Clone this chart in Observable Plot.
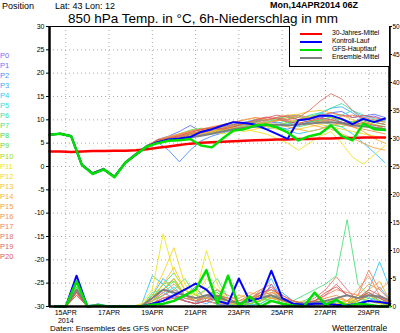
<!DOCTYPE html>
<html><head><meta charset="utf-8">
<script src="https://cdn.jsdelivr.net/npm/d3@7"></script>
<script src="https://cdn.jsdelivr.net/npm/@observablehq/plot@0.6"></script>
<style>
body{margin:0;background:#fff;font-family:"Liberation Sans",Arial,sans-serif;}
#wrap{position:relative;width:400px;height:333px;overflow:hidden;background:#fff;}
#wrap svg{position:absolute;left:0;top:0;}
.t{position:absolute;white-space:nowrap;line-height:1;color:#000;}
.lg{position:absolute;left:289px;top:26px;width:99px;height:40px;border:1px solid #000;border-top:none;border-right:none;background:#fff;}
.lgl{position:absolute;left:10px;width:22px;height:2px;}
.lgt{position:absolute;left:42px;font-size:6.8px;line-height:1;white-space:nowrap;letter-spacing:-0.1px;}
</style></head><body><div id="wrap"></div>
<script>
// ---------- data ----------
const memberNames = ["P0","P1","P2","P3","P4","P5","P6","P7","P8","P9","P10","P11","P12","P13","P14","P15","P16","P17","P18","P19","P20"];
const memberColors = ["#7f66ff","#5f73ff","#4d8dff","#3fa9ff","#33c6ff","#33dcdc","#3fe0a6","#4fe07a","#3fdc3f","#66e033","#99e022","#eee422","#f8d426","#f8c22e","#f8b030","#f8a040","#f59050","#ef8060","#e07468","#e06464","#e05454"];
const tickLabels = ["15APR\n2014","17APR","19APR","21APR","23APR","25APR","27APR","29APR"];
const tempStartUTC = [2014,3,14,6];   // first temperature value: 14APR2014 06Z
const precipStartUTC = [2014,3,14,12]; // first 6h precipitation value
const stepHours = 12;

// 850 hPa temperature (°C), every 12 h
const tP0 = [6.8,7.0,6.6,0.4,-1.4,-0.5,-2.1,0.9,2.7,4.4, 5.5,6.0,6.5,7.0,7.2,7.8,8.0,8.5,9.0,8.8,9.2,9.5,9.0,9.8,10.2,10.5,11.0,10.0,9.5,10.5,10.8,10.0];
const tP1 = [6.7,7.1,6.4,0.1,-1.6,-0.7,-2.3,0.7,2.5,4.2, 5.8,6.5,7.5,8.8,7.5,7.0,7.5,8.2,8.5,9.5,10.0,10.5,9.8,9.0,9.5,10.2,11.5,11.8,10.5,10.8,11.2,10.5];
const tP2 = [6.9,6.9,6.7,0.6,-1.3,-0.4,-2.0,1.1,2.9,4.6, 5.2,3.5,1.0,3.5,5.5,6.5,7.2,7.8,8.0,8.5,9.2,8.5,8.0,8.8,9.5,10.0,10.5,9.5,9.0,8.5,9.0,8.0];
const tP3 = [6.8,7.2,6.5,0.2,-1.7,-0.8,-2.4,0.6,2.4,4.0, 5.0,5.8,6.2,6.8,7.0,7.5,8.2,9.0,9.5,10.0,9.8,10.5,10.8,11.0,10.5,11.2,12.5,12.8,11.5,10.0,9.5,9.0];
const tP4 = [6.8,7.0,6.6,0.3,-1.5,-0.6,-2.2,0.8,2.6,4.3, 5.5,6.0,6.8,6.5,6.8,7.2,7.6,8.0,8.8,8.5,8.0,8.5,7.8,7.0,7.5,8.0,9.0,8.5,7.0,5.0,3.0,0.8];
const tP5 = [6.7,7.0,6.5,0.5,-1.4,-0.5,-2.1,1.0,2.8,4.5, 5.6,6.2,6.0,7.0,7.5,7.8,8.0,8.6,9.2,9.8,10.2,9.5,9.0,9.8,10.5,11.5,10.8,11.0,12.0,11.0,10.2,9.8];
const tP6 = [6.9,7.1,6.6,0.2,-1.6,-0.6,-2.3,0.7,2.6,4.2, 5.4,5.8,6.5,7.2,7.0,7.6,8.4,8.8,9.0,9.5,9.0,8.5,9.2,10.0,11.0,11.5,12.5,13.5,12.0,10.5,9.5,9.0];
const tP7 = [6.8,6.9,6.4,0.4,-1.5,-0.7,-2.2,0.9,2.7,4.3, 5.0,5.5,6.0,6.5,7.2,8.0,8.5,8.2,8.0,8.8,9.5,10.0,9.5,8.5,9.0,9.8,10.0,9.5,8.8,9.2,8.5,8.0];
const tP8 = [6.8,7.0,6.5,0.3,-1.5,-0.5,-2.2,0.8,2.6,4.4, 5.3,6.0,6.4,7.0,7.4,7.2,7.8,8.5,9.2,9.6,10.0,10.2,10.8,10.0,9.5,10.0,10.5,10.0,9.5,9.8,9.0,8.5];
const tP9 = [6.7,7.1,6.6,0.5,-1.3,-0.4,-2.0,1.0,2.8,4.5, 5.7,6.3,7.0,7.8,8.2,8.0,8.6,9.0,8.5,8.8,9.5,9.8,10.2,10.8,10.0,9.6,9.0,8.5,9.5,10.2,9.8,9.5];
const tP10 = [6.8,7.0,6.5,0.2,-1.6,-0.6,-2.3,0.7,2.5,4.2, 5.0,5.6,6.2,6.6,7.0,7.6,8.0,8.6,9.0,9.4,9.0,8.8,9.5,10.0,10.8,11.0,10.5,10.0,9.2,8.8,9.5,9.0];
const tP11 = [6.9,7.0,6.6,0.4,-1.4,-0.5,-2.1,0.9,2.7,4.3, 5.2,5.8,6.0,6.2,7.0,7.4,7.0,7.5,8.0,7.5,7.0,6.0,5.0,3.5,5.0,6.5,7.5,5.0,2.0,0.5,2.5,4.5];
const tP12 = [6.8,7.1,6.5,0.3,-1.5,-0.6,-2.2,0.8,2.6,4.4, 5.5,6.0,6.5,7.0,7.5,8.0,8.5,8.0,7.5,8.0,8.5,8.0,7.5,8.0,8.5,9.0,8.5,8.0,7.5,7.0,6.5,6.0];
const tP13 = [6.7,7.0,6.6,0.5,-1.4,-0.5,-2.1,1.0,2.8,4.5, 5.6,6.4,6.8,7.4,7.8,8.2,8.8,9.4,10.0,10.4,10.0,10.5,11.0,11.2,11.8,12.0,11.5,11.0,10.0,9.5,9.0,8.0];
const tP14 = [6.8,6.9,6.4,0.2,-1.6,-0.7,-2.3,0.7,2.5,4.2, 5.4,6.0,6.6,7.2,7.0,7.5,8.0,8.5,8.2,8.8,9.2,9.0,8.5,8.0,7.5,8.0,8.8,9.2,8.5,7.5,6.0,5.0];
const tP15 = [6.8,7.0,6.5,0.3,-1.5,-0.6,-2.2,0.8,2.6,4.3, 5.2,5.6,6.0,6.5,7.0,7.4,7.8,8.2,8.6,9.0,9.4,9.8,10.0,9.5,9.0,8.5,8.0,7.0,6.0,5.0,4.0,3.5];
const tP16 = [6.9,7.1,6.6,0.4,-1.4,-0.5,-2.1,0.9,2.7,4.4, 5.8,6.4,7.0,7.5,8.0,8.5,9.0,9.5,10.0,10.5,10.2,9.8,10.5,11.0,10.5,10.0,9.5,9.0,8.5,8.0,7.5,7.0];
const tP17 = [6.7,7.0,6.5,0.3,-1.5,-0.6,-2.2,0.8,2.6,4.3, 5.5,6.2,6.8,7.6,8.0,8.4,8.8,9.6,9.2,9.0,9.8,10.5,11.0,10.5,10.0,9.5,10.0,10.8,11.0,10.5,10.0,9.5];
const tP18 = [6.8,7.0,6.6,0.5,-1.3,-0.4,-2.0,1.0,2.8,4.5, 5.0,5.6,6.2,6.8,7.2,7.8,8.2,8.8,9.0,9.5,10.0,10.5,10.0,10.5,12.0,14.0,15.6,14.5,12.0,10.0,9.5,9.0];
const tP19 = [6.8,7.1,6.5,0.2,-1.6,-0.6,-2.3,0.7,2.5,4.2, 5.3,5.9,6.4,7.0,7.6,8.0,8.5,9.0,9.4,9.8,10.4,11.0,10.6,10.0,10.4,11.0,11.5,11.0,10.5,11.0,10.5,10.0];
const tP20 = [6.9,7.0,6.6,0.4,-1.4,-0.5,-2.1,0.9,2.7,4.4, 5.7,6.1,6.6,7.3,7.9,8.3,8.0,8.5,9.2,10.0,10.6,10.2,9.6,9.2,9.8,10.4,10.0,9.5,9.0,9.4,8.8,8.5];
const tControl = [6.8,7.0,6.5,0.3,-1.5,-0.6,-2.2,0.8,2.6,4.3, 5.2,5.8,6.0,6.3,7.4,8.0,8.8,9.5,9.3,9.0,8.0,7.0,5.9,9.9,10.2,10.9,10.9,10.2,9.1,10.2,9.5,10.3];
const tMain = [6.8,7.0,6.5,0.3,-1.6,-0.6,-2.3,0.8,2.6,4.3, 5.0,5.5,5.6,5.9,4.5,4.1,6.0,7.7,8.0,8.8,9.0,8.4,7.3,5.6,6.5,7.0,8.8,6.5,5.6,9.2,8.0,7.8];
const tMean = [6.8,7.0,6.5,0.3,-1.5,-0.6,-2.2,0.8,2.6,4.3, 5.3,5.6,5.8,6.2,6.6,7.0,7.5,8.0,8.3,8.5,8.8,9.0,8.8,9.0,9.2,9.4,9.5,9.3,8.8,8.6,8.3,8.0];
const tClim = [3.2,3.2,3.1,3.2,3.3,3.3,3.4,3.4,3.5,3.7, 4.0,4.3,4.6,4.9,5.1,5.2,5.3,5.4,5.5,5.6,5.7,5.8,5.8,5.9,5.9,6.0,6.0,6.1,6.1,6.2,6.2,6.2];

// 6h precipitation (mm), every 12 h
const pP0 = [0,0,2.5,0,0.3,0,0,0,0,0.5,1.5,2,1,0.5,1,0.5,0.3,0,0.8,1.5,2,0.5,0.2,0.8,1,0.5,0.2,0.5,1.5,2.5,1,0];
const pP1 = [0,0,3.5,0,0.2,0,0,0,0,1,2.5,1.5,2,3.5,1,0.5,0,0.5,1,2,3,1,0.5,0.3,0.5,1,0.5,0.2,1,2,1.5,0.5];
const pP2 = [0,0,4.5,0.2,0.4,0,0,0,0.2,1.5,3,2.5,1,0.5,2,1,0.3,0,0.5,1,4,1,0.5,0.2,0.3,0.5,1,0.5,0.3,1,2,1];
const pP3 = [0,0,3,0,0.3,0,0.2,0,0,2,5,3,2,1,0.5,1.5,1,0.5,0.2,0.5,1.5,2.5,1,0.5,0.3,0.5,0.8,1,0.5,1.5,3.5,1];
const pP4 = [0,0,3,0,0.5,0,0,0,0.3,5.5,4,2,1,0.5,1,2,1,0.3,1,2.5,5,1,0.5,0.3,0.2,0.5,1,0.5,1,3,8,3];
const pP5 = [0,0,2,0,0.3,0,0,0,0,1,2,3.5,1.5,1,2,1.5,0.5,0.2,0.5,1,2,1.5,0.5,0.3,0.5,1,0.5,0.5,1,2,1.5,0.5];
const pP6 = [0,0,2.5,0,0.2,0,0,0,0,2.5,3,4.5,2,1,1.5,3,1,0.5,0.3,0.5,1.5,1,0.5,1,2,1,0.5,1,2,1.5,1,0.5];
const pP7 = [0,0,3,0,0.2,0,0,0,0,1.5,4,6,3,2,3,5,1.5,0.5,1,1.5,1,0.5,1,2,3,4,5.5,15.5,4,2,1,0.5];
const pP8 = [0,0,4,0,0.3,0,0,0,0,2,3,5,2,1,2,2.5,1,0.3,0.5,1,2,1.5,0.5,0.5,1,0.5,0.3,0.5,1,2,1,0.5];
const pP9 = [0,0,3.5,0,0.2,0,0,0,0,1,2,3,5,2,1.5,1,0.5,0.5,1,2.5,1.5,1,0.5,0.3,0.5,1,0.5,0.5,1.5,1,0.5,0.3];
const pP10 = [0,0,3,0,0.3,0,0,0,0,1.5,4,4.5,2,1,2,1.5,0.5,0.3,0.5,1,1.5,1,0.5,0.5,1,0.5,0.5,1,0.5,1,0.5,0.3];
const pP11 = [0,0,2.5,0,0.2,0,0,0,0.5,3,13,6,3,2,10,4,1,0.5,1,2,3,1.5,0.5,0.5,0.3,0.5,0.5,1,2,1,0.5,0.5];
const pP12 = [0,0,2,0,0.2,0,0,0,0.3,2,6,10.5,4,2,5,3,1,0.5,1,1.5,2,1,0.5,1,0.5,0.3,0.5,1,1.5,2,1,0.5];
const pP13 = [0,0,2.5,0,0.3,0,0,0,0,1.5,4,7,3,1.5,3,2,0.5,0.5,1.5,2,1.5,1,0.5,0.3,0.5,1,1.5,1,1,2.5,1.5,0.5];
const pP14 = [0,0,2,0,0.2,0,0,0,0,1,3,5,2,1,2,1.5,1,2,1.5,1,2.5,2,1,0.5,0.5,1,1,0.5,1,3,4.5,1];
const pP15 = [0,0,2,0,0.2,0,0,0,0,1,2.5,4,2,1.5,1.5,1,0.5,1.5,2.5,2,1.5,1,0.5,0.3,0.5,1,1.5,1,2,4,3,4.5];
const pP16 = [0,0,2.5,0,0.3,0,0,0,0,0.5,2,3,2,1,1,0.5,0.5,1,2,3,2,1,0.5,0.5,1,1.5,2,1,3,5.5,2,0.5];
const pP17 = [0,0,2,0,0.2,0,0,0,0,0.5,1.5,2,1.5,1,2,3,2,1,1.5,2,2.5,1.5,1,0.5,1,2,3,2.5,2,6.5,3,1];
const pP18 = [0,0,2.5,0,0.3,0,0,0,0,0.5,1,2,1.5,1,1.5,2,1,0.5,1,3,4,1.5,1,0.5,1.5,3,5.3,3,1,2,1.5,0.5];
const pP19 = [0,0,2,0,0.2,0,0,0,0,0.5,1.5,2,1,0.5,1,1.5,1,0.5,1.5,2.5,3,2,1,0.5,1,2,4,2,1.5,3,2,1];
const pP20 = [0,0,2.5,0,0.2,0,0,0,0,0.5,1,1.5,1,0.5,1,2,1.5,0.5,1,2,3.5,1.5,0.5,0.5,1,2.5,3.5,2,1.5,2.5,1.5,0.5];
const pControl = [0,0,5.5,0,0.2,0,0,0,0,0.5,1,2,3,4.1,3,1,0.5,5,1,1.5,6.4,1.5,0.5,0.3,0.5,0.5,0.3,0.2,0.5,1,0.8,0.5];
const pMain = [0,0,4.5,0,0.2,0,0,0,0,0.3,0.5,1,2,3,6.5,0.5,5.5,0,1.8,0,1,0.5,0.2,0,2.5,0.3,1.2,0,0.5,0.3,0,0];
const pMean = [0,0,3,0,0.3,0,0,0,0.1,1.5,3,2.5,2,1.5,2,1.8,1,0.6,1,1.5,2,1.2,0.6,0.5,0.7,1,1.5,2,1.5,2,1.8,1];

const legendNames = ["30-Jahres-Mittel","Kontroll-Lauf","GFS-Hauptlauf","Ensemble-Mittel"];
const legendColors = ["#ff0000","#0000ff","#00e000","#808080"];

// ---------- build ----------
const memberTemps = [tP0,tP1,tP2,tP3,tP4,tP5,tP6,tP7,tP8,tP9,tP10,tP11,tP12,tP13,tP14,tP15,tP16,tP17,tP18,tP19,tP20];
const memberPrecip = [pP0,pP1,pP2,pP3,pP4,pP5,pP6,pP7,pP8,pP9,pP10,pP11,pP12,pP13,pP14,pP15,pP16,pP17,pP18,pP19,pP20];
const t0 = Date.UTC(...tempStartUTC), p0 = Date.UTC(...precipStartUTC);
const H = 3600e3;
const rows = (arr, start, series) => arr.map((v, i) => ({date: new Date(start + i*stepHours*H), v, series}));
const memTempRows = memberTemps.flatMap((a, k) => rows(a, t0, memberNames[k]));
const memPrecRows = memberPrecip.flatMap((a, k) => rows(a, p0, memberNames[k]));
const colorScale = {domain: memberNames, range: memberColors};

const xDomain = [new Date(t0), new Date(Date.UTC(2014,3,29,23))];
const tickDates = d3.range(15, 30, 2).map(d => new Date(Date.UTC(2014,3,d)));
const tickFmt = d => tickLabels[tickDates.findIndex(t => +t === +d)];
const W = 400, HT = 333;
const margins = {marginLeft: 49, marginRight: 11, marginTop: 26, marginBottom: 27};
const grey = {stroke: "#aaa", strokeOpacity: 1, strokeDasharray: "1,3", strokeWidth: 1};

const tempPlot = Plot.plot({
  width: W, height: HT, ...margins,
  style: {fontFamily: "'Liberation Sans', Arial, sans-serif", fontSize: "7px", background: "white", overflow: "visible"},
  x: {type: "utc", domain: xDomain},
  y: {domain: [-30, 30]},
  color: colorScale,
  marks: [
    Plot.gridY(d3.range(-25, 30, 5), grey),
    Plot.gridX(tickDates, grey),
    Plot.axisY({ticks: d3.range(-30, 31, 5), tickFormat: d => String(d), tickSize: 3, tickPadding: 2, label: null}),
    Plot.axisX({ticks: tickDates, tickFormat: tickFmt, tickSize: 0, tickPadding: 3, label: null, lineHeight: 1.15}),
    Plot.line(memTempRows, {x: "date", y: "v", z: "series", stroke: "series", strokeWidth: 0.9}),
    Plot.line(rows(tMean, t0, "mean"), {x: "date", y: "v", stroke: "#808080", strokeWidth: 2}),
    Plot.line(rows(tClim, t0, "clim"), {x: "date", y: "v", stroke: "#ff0000", strokeWidth: 2.5}),
    Plot.line(rows(tControl, t0, "ctrl"), {x: "date", y: "v", stroke: "#0000ff", strokeWidth: 2}),
    Plot.line(rows(tMain, t0, "main"), {x: "date", y: "v", stroke: "#00e000", strokeWidth: 2.5}),
    Plot.frame({stroke: "black", strokeWidth: 1})
  ]
});

const precPlot = Plot.plot({
  width: W, height: HT, ...margins,
  style: {fontFamily: "'Liberation Sans', Arial, sans-serif", fontSize: "6.5px", background: "transparent", overflow: "visible"},
  x: {type: "utc", domain: xDomain, axis: null},
  y: {domain: [0, 50]},
  color: colorScale,
  marks: [
    Plot.axisY({anchor: "right", ticks: d3.range(0, 51, 5), tickSize: 2, tickPadding: 1, label: null}),
    Plot.line(memPrecRows, {x: "date", y: "v", z: "series", stroke: "series", strokeWidth: 0.9}),
    Plot.line(rows(pMean, p0, "mean"), {x: "date", y: "v", stroke: "#808080", strokeWidth: 2}),
    Plot.line(rows(pControl, p0, "ctrl"), {x: "date", y: "v", stroke: "#0000ff", strokeWidth: 2}),
    Plot.line(rows(pMain, p0, "main"), {x: "date", y: "v", stroke: "#00e000", strokeWidth: 2.5}),
    Plot.ruleX([xDomain[0], xDomain[1]], {stroke: "black", strokeWidth: 2.5}),
    Plot.ruleY([0], {stroke: "black", strokeWidth: 2.5})
  ]
});

const wrap = document.getElementById("wrap");
wrap.appendChild(tempPlot);
wrap.appendChild(precPlot);

function addText(txt, css) {
  const d = document.createElement("div");
  d.className = "t"; d.textContent = txt; d.style.cssText += css;
  wrap.appendChild(d); return d;
}
addText("Position", "left:2px;top:2px;font-size:9px;");
addText("Lat: 43 Lon: 12", "left:55px;top:2px;font-size:9px;");
addText("Mon,14APR2014 06Z", "left:270px;top:1px;font-size:9px;font-weight:bold;");
addText("850 hPa Temp. in °C, 6h-Niederschlag in mm", "left:68px;top:12px;font-size:13.5px;");
memberNames.forEach((n, i) => addText(n, `left:0px;top:${52 + i*10.05}px;font-size:7.5px;color:${memberColors[i]};`));
addText("Daten: Ensembles des GFS von NCEP", "left:50px;top:325px;font-size:8px;");
addText("Wetterzentrale", "left:332px;top:324px;font-size:8.5px;");

const lg = document.createElement("div"); lg.className = "lg"; wrap.appendChild(lg);
legendNames.forEach((n, i) => {
  const l = document.createElement("div"); l.className = "lgl";
  l.style.top = (7 + i*8) + "px"; l.style.background = legendColors[i]; lg.appendChild(l);
  const t = document.createElement("div"); t.className = "lgt"; t.textContent = n;
  t.style.top = (4 + i*8) + "px"; lg.appendChild(t);
});
</script></body></html>
